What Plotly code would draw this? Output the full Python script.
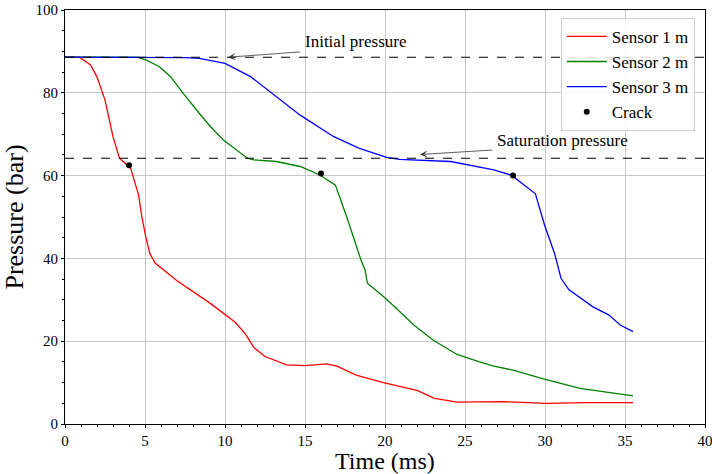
import plotly.graph_objects as go

# Sensor 1 m
t1 = [0, 0.9, 1.6, 2.0, 2.5, 3.0, 3.4, 4.1, 4.6, 4.8, 5.05, 5.3, 5.63, 7.0, 9.06, 10.1, 10.6, 11.25, 11.8, 12.5, 13.85, 15.0, 16.35, 17.0, 18.2, 19.9, 20.9, 22.0, 23.1, 24.5, 27.4, 30.1, 32.6, 35.5]
p1 = [88.6, 88.6, 86.7, 83.8, 78.3, 69.4, 64.2, 61.8, 55.3, 50.1, 45.2, 41.2, 38.9, 34.6, 29.2, 26.3, 24.7, 21.9, 18.5, 16.3, 14.3, 14.1, 14.5, 14.0, 11.8, 10.0, 9.1, 8.1, 6.2, 5.3, 5.4, 5.0, 5.15, 5.15]

# Sensor 2 m
t2 = [0, 4.5, 5.1, 5.9, 6.6, 7.4, 8.4, 9.1, 9.9, 10.8, 11.4, 11.8, 13.2, 14.7, 15.9, 16.9, 17.6, 18.5, 18.75, 18.9, 19.9, 20.6, 21.8, 23.0, 24.5, 25.9, 26.8, 28.0, 29.9, 32.2, 35.5]
p2 = [88.6, 88.6, 87.9, 86.3, 83.9, 79.8, 75.0, 71.8, 68.6, 66.0, 64.2, 63.8, 63.4, 62.2, 60.2, 57.7, 50.1, 39.6, 37.2, 34.0, 30.8, 28.3, 23.9, 20.3, 16.8, 15.0, 14.0, 13.0, 10.9, 8.6, 6.8]

# Sensor 3 m
t3 = [0, 7.5, 8.4, 10.0, 11.6, 13.2, 14.7, 16.8, 18.4, 20.1, 20.9, 24.1, 26.8, 27.9, 29.4, 30.0, 30.6, 31.0, 31.5, 33.0, 34.0, 34.7, 35.5]
p3 = [88.6, 88.5, 88.3, 87.1, 83.9, 79.1, 74.6, 69.4, 66.6, 64.4, 63.9, 63.4, 61.4, 60.1, 55.6, 47.7, 41.2, 35.2, 32.4, 28.3, 26.3, 23.9, 22.3]

# Crack points
crack_t = [4.0, 16.0, 28.0]
crack_p = [62.5, 60.5, 60.0]

initial_pressure = 88.6
saturation_pressure = 64.2

FONT = "'Liberation Serif', 'Times New Roman', serif"

fig = go.Figure()
fig.add_trace(go.Scatter(x=t1, y=p1, mode="lines", name="Sensor 1 m",
                         line=dict(color="red", width=1.3)))
fig.add_trace(go.Scatter(x=t2, y=p2, mode="lines", name="Sensor 2 m",
                         line=dict(color="green", width=1.3)))
fig.add_trace(go.Scatter(x=t3, y=p3, mode="lines", name="Sensor 3 m",
                         line=dict(color="blue", width=1.3)))
fig.add_trace(go.Scatter(x=crack_t, y=crack_p, mode="markers", name="Crack",
                         marker=dict(color="black", size=6)))

for yv in [initial_pressure, saturation_pressure]:
    fig.add_shape(type="line", xref="x", yref="y", x0=0, x1=40, y0=yv, y1=yv,
                  line=dict(color="black", width=1.1, dash="dash"))

fig.add_annotation(x=10.2, y=initial_pressure, ax=14.8, ay=89.9,
                   xref="x", yref="y", axref="x", ayref="y",
                   showarrow=True, arrowhead=3, arrowsize=1.6, arrowwidth=0.8,
                   arrowcolor="#333333", text="")
fig.add_annotation(x=14.9, y=89.6, xref="x", yref="y", text="Initial pressure",
                   showarrow=False, xanchor="left", yanchor="bottom",
                   font=dict(family=FONT, size=17, color="black"))
fig.add_annotation(x=22.2, y=65.1, ax=26.8, ay=66.2,
                   xref="x", yref="y", axref="x", ayref="y",
                   showarrow=True, arrowhead=3, arrowsize=1.6, arrowwidth=0.8,
                   arrowcolor="#333333", text="")
fig.add_annotation(x=26.9, y=65.7, xref="x", yref="y", text="Saturation pressure",
                   showarrow=False, xanchor="left", yanchor="bottom",
                   font=dict(family=FONT, size=17, color="black"))

# x-axis title as an annotation pinned to the bottom edge
fig.add_annotation(x=0.5, y=-0.1232, xref="paper", yref="paper", text="Time (ms)",
                   showarrow=False, xanchor="center", yanchor="bottom", borderpad=0,
                   font=dict(family=FONT, size=24, color="black"))

axis_common = dict(showline=True, linecolor="black", linewidth=1, mirror=True,
                   ticks="outside", ticklen=3, tickcolor="black",
                   showgrid=True, gridcolor="#c8c8c8", gridwidth=1,
                   zeroline=False, automargin=False,
                   tickfont=dict(family=FONT, size=15, color="black"))

fig.update_xaxes(range=[0, 40], dtick=5, tick0=0, ticklabeloverflow="allow",
                 minor=dict(dtick=1, ticks="outside", ticklen=2, tickcolor="black", showgrid=False),
                 **axis_common)
fig.update_yaxes(range=[0, 100], dtick=20, tick0=0, ticklabeloverflow="allow",
                 minor=dict(dtick=5, ticks="outside", ticklen=2, tickcolor="black", showgrid=False),
                 title=dict(text="Pressure (bar)", font=dict(family=FONT, size=26, color="black"), standoff=6),
                 **axis_common)

fig.update_layout(
    width=712, height=474,
    margin=dict(l=65, r=7, t=10, b=50, autoexpand=False),
    plot_bgcolor="white", paper_bgcolor="white",
    font=dict(family=FONT, size=16, color="black"),
    legend=dict(x=0.984, y=0.981, xanchor="right", yanchor="top",
                bgcolor="rgba(255,255,255,0.85)", bordercolor="#d0d0d0", borderwidth=1,
                font=dict(family=FONT, size=17, color="black"),
                tracegroupgap=0, itemwidth=40),
    showlegend=True,
)

fig.write_html("out.html")
